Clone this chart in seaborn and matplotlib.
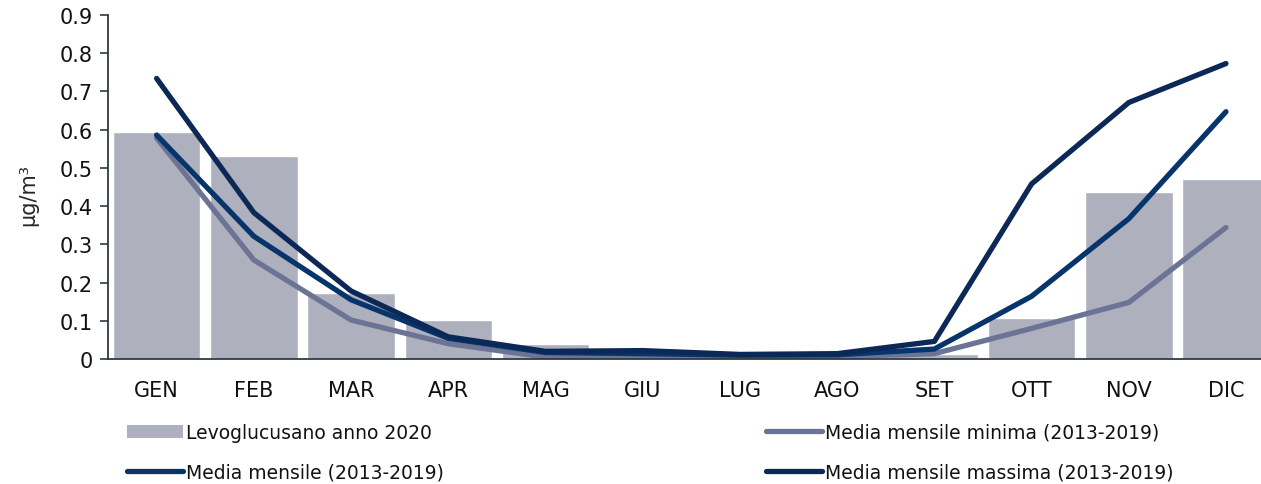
import pandas as pd
import seaborn as sns
import matplotlib.pyplot as plt
from matplotlib.patches import Patch
from matplotlib.lines import Line2D

sns.set_style("white")
plt.rcParams["font.family"] = ["DejaVu Sans"]
plt.rcParams["text.color"] = "#111111"
plt.rcParams["xtick.color"] = "#111111"
plt.rcParams["ytick.color"] = "#111111"

# data
months = ["GEN", "FEB", "MAR", "APR", "MAG", "GIU", "LUG", "AGO", "SET", "OTT", "NOV", "DIC"]
levo_2020 = [0.595, 0.530, 0.173, 0.102, 0.038, 0.0, 0.0, 0.0, 0.012, 0.108, 0.437, 0.472]
media_min = [0.578, 0.259, 0.102, 0.040, 0.005, 0.004, 0.004, 0.005, 0.014, 0.080, 0.148, 0.344]
media = [0.586, 0.321, 0.155, 0.054, 0.017, 0.014, 0.010, 0.011, 0.026, 0.164, 0.367, 0.647]
media_max = [0.734, 0.383, 0.178, 0.058, 0.020, 0.022, 0.012, 0.014, 0.046, 0.458, 0.671, 0.773]

c_bar = "#aeb0be"
c_min = "#6b7494"
c_mean = "#06346b"
c_max = "#0b2856"

df = pd.DataFrame({"mese": months, "levo": levo_2020, "min": media_min,
                   "media": media, "max": media_max})

fig = plt.figure(figsize=(12.61, 4.85), dpi=100)
ax = fig.add_axes([108 / 1261, 125 / 485, 1166.6 / 1261, 344 / 485])

sns.barplot(data=df, x="mese", y="levo", color=c_bar, width=0.9,
            saturation=1, ax=ax)
line_kw = dict(linewidth=3.8, solid_capstyle="round", solid_joinstyle="round")
sns.lineplot(data=df, x="mese", y="min", color=c_min, ax=ax, sort=False, **line_kw)
sns.lineplot(data=df, x="mese", y="media", color=c_mean, ax=ax, sort=False, **line_kw)
sns.lineplot(data=df, x="mese", y="max", color=c_max, ax=ax, sort=False, **line_kw)

ax.set_xlim(-0.5, 11.5)
ax.set_ylim(0, 0.9)
ax.set_yticks([i / 10 for i in range(10)])
ax.set_yticklabels(["0"] + [f"{i / 10:.1f}" for i in range(1, 10)])
ax.set_xlabel("")
ax.set_ylabel("µg/m³", fontsize=15)
ax.yaxis.set_label_coords(-0.060, 0.48)
ax.tick_params(axis="y", labelsize=15, length=6, width=1.2, color="#2e3b44",
               direction="out", left=True, pad=5)
ax.tick_params(axis="x", labelsize=15, length=0, pad=15)
sns.despine(ax=ax, top=True, right=True)
for s in ["left", "bottom"]:
    ax.spines[s].set_color("#2e3b44")
    ax.spines[s].set_linewidth(1.3)

# legend in two blocks like the original
h_bar = Patch(facecolor=c_bar, edgecolor="none")
h_mean = Line2D([], [], color=c_mean, linewidth=3.8, solid_capstyle="round")
h_min = Line2D([], [], color=c_min, linewidth=3.8, solid_capstyle="round")
h_max = Line2D([], [], color=c_max, linewidth=3.8, solid_capstyle="round")
leg_kw = dict(frameon=False, fontsize=13.5, handlelength=3.0, handletextpad=0.15,
              labelspacing=1.1, borderaxespad=0, borderpad=0, loc="upper left")
leg1 = fig.legend([h_bar, h_mean], ["Levoglucusano anno 2020", "Media mensile (2013-2019)"],
                  bbox_to_anchor=(127 / 1261, 1 - 424 / 485), **leg_kw)
leg2 = fig.legend([h_min, h_max], ["Media mensile minima (2013-2019)",
                                   "Media mensile massima (2013-2019)"],
                  bbox_to_anchor=(766 / 1261, 1 - 424 / 485), **leg_kw)

plt.savefig("out.png", dpi=100)
